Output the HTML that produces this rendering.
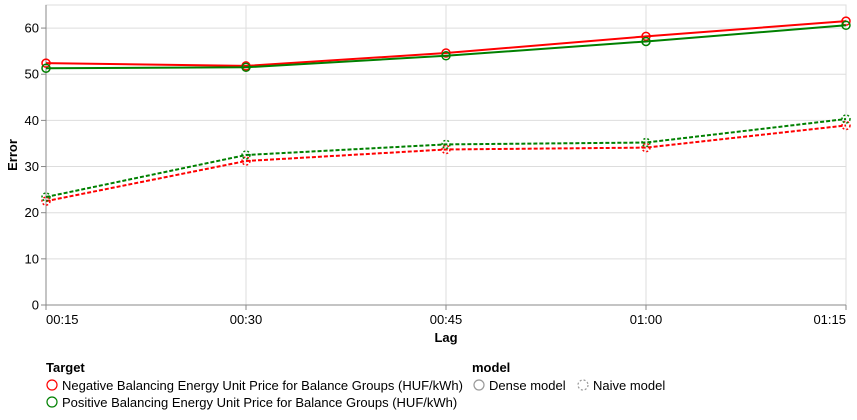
<!DOCTYPE html>
<html><head><meta charset="utf-8"><style>
body{margin:0;background:#fff;font-family:"Liberation Sans",sans-serif}
svg text{font-family:"Liberation Sans",sans-serif}
</style></head><body>
<svg id="chart" width="857" height="415"></svg>
<script>
const categories=["00:15","00:30","00:45","01:00","01:15"];
const negDense=[52.4,51.8,54.6,58.2,61.5];
const posDense=[51.3,51.5,54.0,57.1,60.6];
const negNaive=[22.5,31.2,33.7,34.1,38.9];
const posNaive=[23.4,32.5,34.8,35.2,40.3];
const yTicks=[0,10,20,30,40,50,60];
const NS="http://www.w3.org/2000/svg";
const svg=document.getElementById('chart');
const L=46,R=846,T=5,B=305,YMAX=65;
const x=i=>L+i*(R-L)/(categories.length-1);
const y=v=>B-v/YMAX*(B-T);
function el(t,a,p){const e=document.createElementNS(NS,t);for(const k in a)e.setAttribute(k,a[k]);(p||svg).appendChild(e);return e;}
const grid=el('g',{});


categories.forEach((c,i)=>{el('line',{x1:x(i),x2:x(i),y1:T,y2:B,stroke:'#ddd'},grid);});
yTicks.forEach(v=>{el('line',{x1:L,x2:R,y1:y(v),y2:y(v),stroke:'#ddd'},grid);});
el('rect',{x:L,y:T,width:R-L,height:B-T,fill:'none',stroke:'#ddd'},grid);
const ya=el('g',{});


el('line',{x1:L,x2:L,y1:T,y2:B,stroke:'#888'},ya);
yTicks.forEach(v=>{el('line',{x1:L-5,x2:L,y1:y(v),y2:y(v),stroke:'#888'},ya);
const t=el('text',{x:L-7,y:y(v)+4.5,'text-anchor':'end','font-size':13,fill:'#000'},ya);t.textContent=v;});
const yt=el('text',{transform:`translate(17,${(T+B)/2}) rotate(-90)`,'text-anchor':'middle','font-size':13,'font-weight':'bold'});
yt.textContent='Error';


const xa=el('g',{});


el('line',{x1:L,x2:R,y1:B,y2:B,stroke:'#888'},xa);
categories.forEach((c,i)=>{el('line',{x1:x(i),x2:x(i),y1:B,y2:B+5,stroke:'#888'},xa);
const anc=i===0?'start':(i===categories.length-1?'end':'middle');
const t=el('text',{x:x(i),y:B+19,'text-anchor':anc,'font-size':13},xa);t.textContent=c;});
const xt=el('text',{x:(L+R)/2,y:B+37,'text-anchor':'middle','font-size':13,'font-weight':'bold'});
xt.textContent='Lag';


function series(vals,color,dash,name){
const g=el('g',{});


el('polyline',{points:vals.map((v,i)=>x(i)+','+y(v)).join(' '),fill:'none',stroke:color,'stroke-width':2,'stroke-dasharray':dash||''},g);
vals.forEach((v,i)=>{const c=el('circle',{cx:x(i),cy:y(v),r:4,fill:'none',stroke:color,'stroke-width':1.5,'stroke-dasharray':dash?'2,2':''},g);

});
}
series(negNaive,'#ff0000','4,2','series-negative-naive');
series(posNaive,'#008000','4,2','series-positive-naive');
series(negDense,'#ff0000','','series-negative-dense');
series(posDense,'#008000','','series-positive-dense');
const lg=el('g',{});


function txt(s,xx,yy,bold,p){const t=el('text',{x:xx,y:yy,'font-size':13,'font-weight':bold?'bold':'normal'},p);t.textContent=s;return t;}
txt('Target',46,372,true,lg);
el('circle',{cx:52,cy:385,r:5,fill:'none',stroke:'#ff0000','stroke-width':1.2},lg);
txt('Negative Balancing Energy Unit Price for Balance Groups (HUF/kWh)',62,390,false,lg);
el('circle',{cx:52,cy:402,r:5,fill:'none',stroke:'#008000','stroke-width':1.2},lg);
txt('Positive Balancing Energy Unit Price for Balance Groups (HUF/kWh)',62,407,false,lg);
txt('model',472,372,true,lg);
el('circle',{cx:479,cy:385,r:5,fill:'none',stroke:'#999','stroke-width':1.2},lg);
txt('Dense model',489,390,false,lg);
el('circle',{cx:583,cy:385,r:5,fill:'none',stroke:'#999','stroke-width':1.2,'stroke-dasharray':'2,2'},lg);
txt('Naive model',593,390,false,lg);
</script>
</body></html>
